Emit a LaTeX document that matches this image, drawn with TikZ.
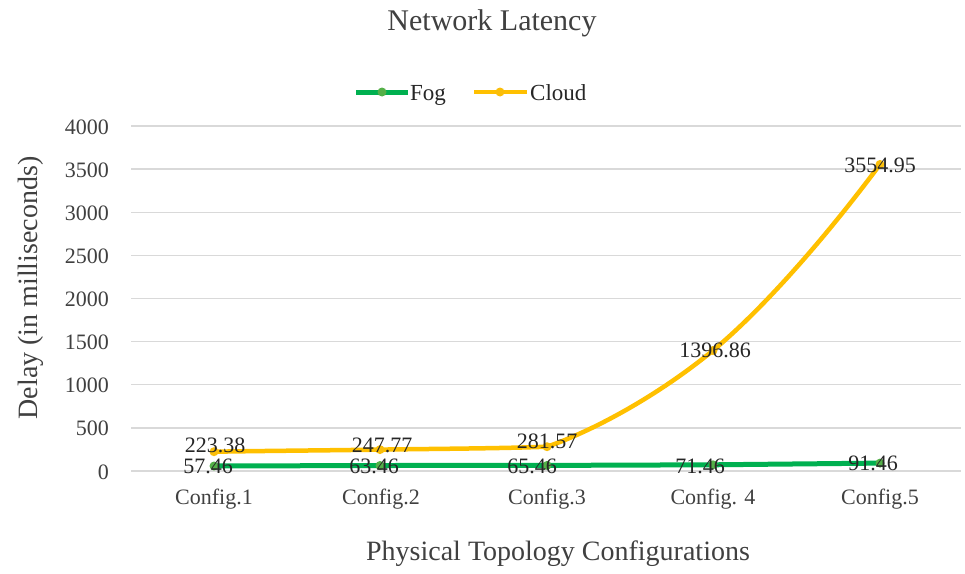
\documentclass[tikz,border=0pt]{standalone}
\usepackage{fontspec}
\setmainfont{Liberation Serif}
\definecolor{fogline}{RGB}{0,176,80}
\definecolor{fogmark}{RGB}{84,176,72}
\definecolor{cloudline}{RGB}{255,192,0}
\definecolor{cloudmark}{RGB}{250,190,10}
\definecolor{gridgray}{RGB}{217,217,217}
\definecolor{ticktext}{RGB}{64,64,64}
\definecolor{labeltext}{RGB}{38,38,38}
\tikzset{
  gridline/.style={draw=gridgray, line width=1.4pt},
  ticklab/.style={text=ticktext, font=\fontsize{22}{24}\selectfont, inner sep=0pt},
  datalab/.style={text=labeltext, font=\fontsize{22}{24}\selectfont, inner sep=0pt, anchor=base},
  axtitle/.style={text=ticktext, font=\fontsize{28}{30}\selectfont, inner sep=0pt},
  fogcurve/.style={draw=fogline, line width=5pt, line join=round, line cap=round},
  cloudcurve/.style={draw=cloudline, line width=4.5pt, line join=round, line cap=round},
  fogdot/.style={circle, fill=fogmark, inner sep=0pt, minimum size=9pt},
  clouddot/.style={circle, fill=cloudmark, inner sep=0pt, minimum size=9pt},
}
\begin{document}
\begin{tikzpicture}[x=1pt, y=-1pt]
\useasboundingbox (0,0) rectangle (965,573);

% title
\node[text=ticktext, font=\fontsize{30}{32}\selectfont, inner sep=0pt, anchor=base] (title) at (492,30) {Network Latency};

% legend
\coordinate (fogA) at (356,92);
\coordinate (fogB) at (408,92);
\coordinate (cloudA) at (474,92);
\coordinate (cloudB) at (527,92);
\draw[fogcurve, line cap=butt] (fogA) -- (fogB);
\node[fogdot] (fogkey) at (382,92) {};
\node[text=labeltext, font=\fontsize{23}{25}\selectfont, inner sep=0pt, anchor=base west] (foglab) at (410,100) {Fog};
\draw[cloudcurve, line cap=butt] (cloudA) -- (cloudB);
\node[clouddot] (cloudkey) at (500,92) {};
\node[text=labeltext, font=\fontsize{23}{25}\selectfont, inner sep=0pt, anchor=base west] (cloudlab) at (530,100) {Cloud};

% horizontal grid and value axis labels
\foreach \v in {0,500,...,4000}{
  \pgfmathsetmacro{\yy}{471-0.08625*\v}
  \coordinate (gl\v) at (131,\yy);
  \coordinate (gr\v) at (961,\yy);
  \draw[gridline] (gl\v) -- (gr\v);
  \node[ticklab, anchor=base east] (yt\v) at (109,\yy+8) {\v};
}

% category labels
\node[ticklab, anchor=base] (c1) at (214,504) {Config.1};
\node[ticklab, anchor=base] (c2) at (381,504) {Config.2};
\node[ticklab, anchor=base] (c3) at (547,504) {Config.3};
\node[ticklab, anchor=base] (c4) at (713,504) {Config. 4};
\node[ticklab, anchor=base] (c5) at (880,504) {Config.5};

% axis titles
\node[axtitle, anchor=base] (xtitle) at (558,560) {Physical Topology Configurations};
\node[axtitle, rotate=90, anchor=center] (ytitle) at (31,288) {Delay (in milliseconds)};

% data points
\coordinate (f1) at (214,466.0);
\coordinate (f2) at (380,465.5);
\coordinate (f3) at (547,465.4);
\coordinate (f4) at (713,464.8);
\coordinate (f5) at (880,463.1);
\coordinate (k1) at (214,451.7);
\coordinate (k2) at (380,449.6);
\coordinate (k3) at (547,446.7);
\coordinate (k4) at (713,350.5);
\coordinate (k5) at (880,164.4);

% series (cloud smoothed with explicit tangents)
\draw[cloudcurve] (k1) .. controls (270,450.8) and (325,450.4) .. (k2)
  .. controls (435,448.8) and (500,448.5) .. (k3)
  .. controls (590,432) and (655,398) .. (k4)
  .. controls (770,303) and (835,225) .. (k5);
\foreach \p in {k1,k2,k3,k4,k5}{\node[clouddot] (m\p) at (\p) {};}
\draw[fogcurve] (f1) -- (f2) -- (f3) -- (f4) -- (f5);
\foreach \p in {f1,f2,f3,f4,f5}{\node[fogdot] (m\p) at (\p) {};}

% data labels
\node[datalab] (lk1) at (215,452) {223.38};
\node[datalab] (lk2) at (382,452) {247.77};
\node[datalab] (lk3) at (547,448) {281.57};
\node[datalab] (lk4) at (715,357) {1396.86};
\node[datalab] (lk5) at (880,172) {3554.95};
\node[datalab] (lf1) at (208,473) {57.46};
\node[datalab] (lf2) at (374,473) {63.46};
\node[datalab] (lf3) at (532,473) {65.46};
\node[datalab] (lf4) at (700,473) {71.46};
\node[datalab] (lf5) at (873,470) {91.46};
\end{tikzpicture}
\end{document}
